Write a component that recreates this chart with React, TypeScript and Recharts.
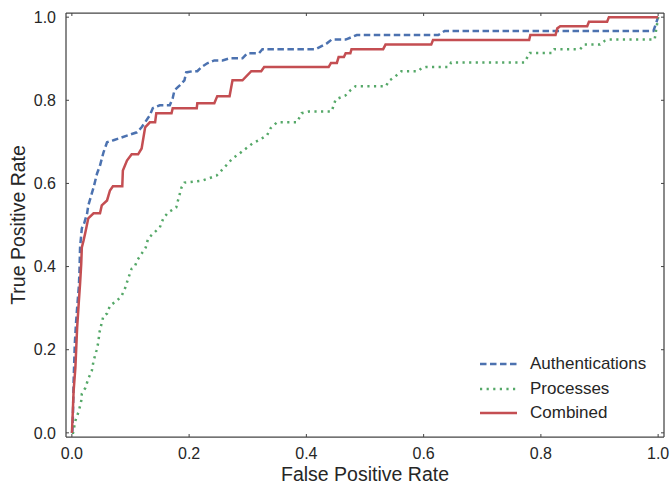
import { LineChart, Line, XAxis, YAxis, Legend } from 'recharts';

// ROC curves
const authFpr = [0, 0.001, 0.002, 0.003, 0.004, 0.005, 0.007, 0.009, 0.012, 0.013, 0.014, 0.017, 0.021, 0.026, 0.028, 0.033, 0.037, 0.040, 0.043, 0.048, 0.054, 0.060, 0.066, 0.071, 0.111, 0.119, 0.133, 0.138, 0.150, 0.167, 0.172, 0.175, 0.184, 0.192, 0.195, 0.206, 0.214, 0.221, 0.231, 0.243, 0.257, 0.269, 0.291, 0.299, 0.319, 0.325, 0.416, 0.435, 0.443, 0.467, 0.486, 0.625, 0.636, 0.992, 1.0];
const authTpr = [0, 0.005, 0.053, 0.125, 0.169, 0.214, 0.263, 0.301, 0.354, 0.390, 0.446, 0.492, 0.504, 0.528, 0.547, 0.571, 0.590, 0.607, 0.624, 0.643, 0.675, 0.699, 0.702, 0.704, 0.723, 0.735, 0.764, 0.781, 0.788, 0.788, 0.805, 0.824, 0.836, 0.848, 0.867, 0.870, 0.870, 0.880, 0.889, 0.896, 0.896, 0.901, 0.901, 0.913, 0.913, 0.923, 0.923, 0.937, 0.946, 0.946, 0.957, 0.957, 0.967, 0.967, 1.0];

const procFpr = [0, 0.002, 0.006, 0.012, 0.016, 0.017, 0.023, 0.028, 0.034, 0.037, 0.042, 0.045, 0.047, 0.051, 0.054, 0.060, 0.065, 0.077, 0.085, 0.091, 0.096, 0.102, 0.108, 0.111, 0.119, 0.126, 0.130, 0.139, 0.150, 0.156, 0.164, 0.178, 0.181, 0.187, 0.192, 0.223, 0.247, 0.255, 0.263, 0.274, 0.286, 0.297, 0.308, 0.319, 0.333, 0.339, 0.350, 0.384, 0.392, 0.404, 0.443, 0.450, 0.467, 0.475, 0.484, 0.536, 0.540, 0.552, 0.562, 0.591, 0.596, 0.604, 0.642, 0.647, 0.772, 0.777, 0.781, 0.819, 0.823, 0.867, 0.874, 0.901, 0.909, 0.916, 0.994, 1.0];
const procTpr = [0, 0, 0.029, 0.053, 0.077, 0.094, 0.108, 0.130, 0.149, 0.173, 0.198, 0.217, 0.241, 0.265, 0.282, 0.287, 0.306, 0.318, 0.330, 0.349, 0.371, 0.395, 0.402, 0.414, 0.431, 0.446, 0.467, 0.480, 0.494, 0.516, 0.530, 0.542, 0.559, 0.590, 0.602, 0.607, 0.619, 0.631, 0.643, 0.660, 0.672, 0.684, 0.696, 0.704, 0.716, 0.733, 0.747, 0.747, 0.769, 0.773, 0.773, 0.802, 0.812, 0.824, 0.834, 0.834, 0.846, 0.858, 0.870, 0.870, 0.877, 0.880, 0.880, 0.891, 0.891, 0.904, 0.914, 0.914, 0.923, 0.923, 0.934, 0.934, 0.943, 0.946, 0.946, 1.0];

const combFpr = [0, 0.0003, 0.003, 0.006, 0.009, 0.012, 0.014, 0.016, 0.017, 0.020, 0.023, 0.028, 0.037, 0.048, 0.051, 0.060, 0.065, 0.070, 0.086, 0.087, 0.094, 0.102, 0.113, 0.119, 0.125, 0.133, 0.142, 0.144, 0.170, 0.172, 0.213, 0.214, 0.243, 0.248, 0.269, 0.274, 0.291, 0.306, 0.323, 0.328, 0.438, 0.442, 0.452, 0.455, 0.464, 0.467, 0.475, 0.477, 0.531, 0.535, 0.613, 0.616, 0.780, 0.782, 0.825, 0.828, 0.833, 0.836, 0.879, 0.882, 0.913, 0.916, 1.0];
const combTpr = [0, 0.005, 0.101, 0.157, 0.253, 0.318, 0.359, 0.407, 0.446, 0.463, 0.482, 0.516, 0.528, 0.528, 0.547, 0.559, 0.583, 0.593, 0.593, 0.631, 0.655, 0.670, 0.670, 0.684, 0.735, 0.747, 0.747, 0.769, 0.769, 0.781, 0.781, 0.793, 0.793, 0.810, 0.810, 0.848, 0.848, 0.870, 0.870, 0.880, 0.880, 0.890, 0.890, 0.904, 0.904, 0.913, 0.913, 0.923, 0.923, 0.934, 0.934, 0.945, 0.945, 0.957, 0.957, 0.973, 0.978, 0.978, 0.978, 0.989, 0.989, 1.0, 1.0];

const axisTicks = [0, 0.2, 0.4, 0.6, 0.8, 1.0];

const zip = (fpr: number[], tpr: number[]) => fpr.map((f, i) => ({ fpr: f, tpr: tpr[i] }));

const series = [
  { name: 'Authentications', data: zip(authFpr, authTpr), color: '#4C72B0', dash: '6.5 3.5' },
  { name: 'Processes', data: zip(procFpr, procTpr), color: '#55A868', dash: '2.2 4.4' },
  { name: 'Combined', data: zip(combFpr, combTpr), color: '#C44E52', dash: undefined },
];

const FONT = '"Liberation Sans", Arial, sans-serif';
const TEXT = '#262626';
const SPINE = '#444';
const domain: [number, number] = [-0.01, 1.01];

// ticks point inward, matplotlib style
const BottomTick = ({ x, y, payload }: any) => (
  <g>
    <line x1={x} x2={x} y1={y} y2={y - 3} stroke={SPINE} />
    <text x={x} y={y + 22} textAnchor="middle" fontSize={16} fontFamily={FONT} fill={TEXT}>
      {Number(payload.value).toFixed(1)}
    </text>
  </g>
);
const TopTick = ({ x, y }: any) => <line x1={x} x2={x} y1={y} y2={y + 3} stroke={SPINE} />;
const LeftTick = ({ x, y, payload }: any) => (
  <g>
    <line x1={x} x2={x + 3} y1={y} y2={y} stroke={SPINE} />
    <text x={x - 10} y={y + 5.7} textAnchor="end" fontSize={16} fontFamily={FONT} fill={TEXT}>
      {Number(payload.value).toFixed(1)}
    </text>
  </g>
);
const RightTick = ({ x, y }: any) => <line x1={x} x2={x - 3} y1={y} y2={y} stroke={SPINE} />;

function LegendBox() {
  return (
    <div style={{ fontFamily: FONT, fontSize: 17, color: TEXT }}>
      {series.map(s => (
        <div key={s.name} style={{ display: 'flex', alignItems: 'center', height: 24.7 }}>
          <svg width={40} height={10} style={{ marginRight: 13 }}>
            <line x1={3} x2={40} y1={5} y2={5} stroke={s.color} strokeWidth={2.5} strokeDasharray={s.dash} />
          </svg>
          <span>{s.name}</span>
        </div>
      ))}
    </div>
  );
}

export default function App() {
  return (
    <div style={{ position: 'absolute', left: 0, top: 0, background: '#fff' }}>
      <LineChart width={670} height={487} margin={{ top: 12, right: 5, left: 0, bottom: 0 }}>
        <XAxis
          dataKey="fpr"
          type="number"
          domain={domain}
          ticks={axisTicks}
          allowDataOverflow
          height={50}
          tickSize={0}
          tickMargin={0}
          tickLine={false}
          axisLine={{ stroke: SPINE, strokeWidth: 1.25 }}
          tick={<BottomTick />}
          label={{ value: 'False Positive Rate', position: 'insideBottom', offset: 6, fontSize: 19.5, fontFamily: FONT, fill: TEXT }}
        />
        <XAxis
          xAxisId="top"
          orientation="top"
          dataKey="fpr"
          type="number"
          domain={domain}
          ticks={axisTicks}
          allowDataOverflow
          height={1}
          tickSize={0}
          tickMargin={0}
          tickLine={false}
          axisLine={{ stroke: SPINE, strokeWidth: 1.25 }}
          tick={<TopTick />}
        />
        <YAxis
          type="number"
          domain={domain}
          ticks={axisTicks}
          allowDataOverflow
          width={66}
          tickSize={0}
          tickMargin={0}
          tickLine={false}
          axisLine={{ stroke: SPINE, strokeWidth: 1.25 }}
          tick={<LeftTick />}
          label={{ value: 'True Positive Rate', angle: -90, position: 'insideLeft', offset: 18, style: { textAnchor: 'middle' }, fontSize: 19.5, fontFamily: FONT, fill: TEXT }}
        />
        <YAxis
          yAxisId="right"
          orientation="right"
          type="number"
          domain={domain}
          ticks={axisTicks}
          allowDataOverflow
          width={1}
          tickSize={0}
          tickMargin={0}
          tickLine={false}
          axisLine={{ stroke: SPINE, strokeWidth: 1.25 }}
          tick={<RightTick />}
        />
        {series.map(s => (
          <Line
            key={s.name}
            data={s.data}
            dataKey="tpr"
            name={s.name}
            type="linear"
            stroke={s.color}
            strokeWidth={2.5}
            strokeDasharray={s.dash}
            dot={false}
            activeDot={false}
            isAnimationActive={false}
          />
        ))}
        <Legend
          layout="vertical"
          align="center"
          verticalAlign="middle"
          wrapperStyle={{ left: 477, top: 351.5, width: 190 }}
          content={() => <LegendBox />}
        />
      </LineChart>
    </div>
  );
}
